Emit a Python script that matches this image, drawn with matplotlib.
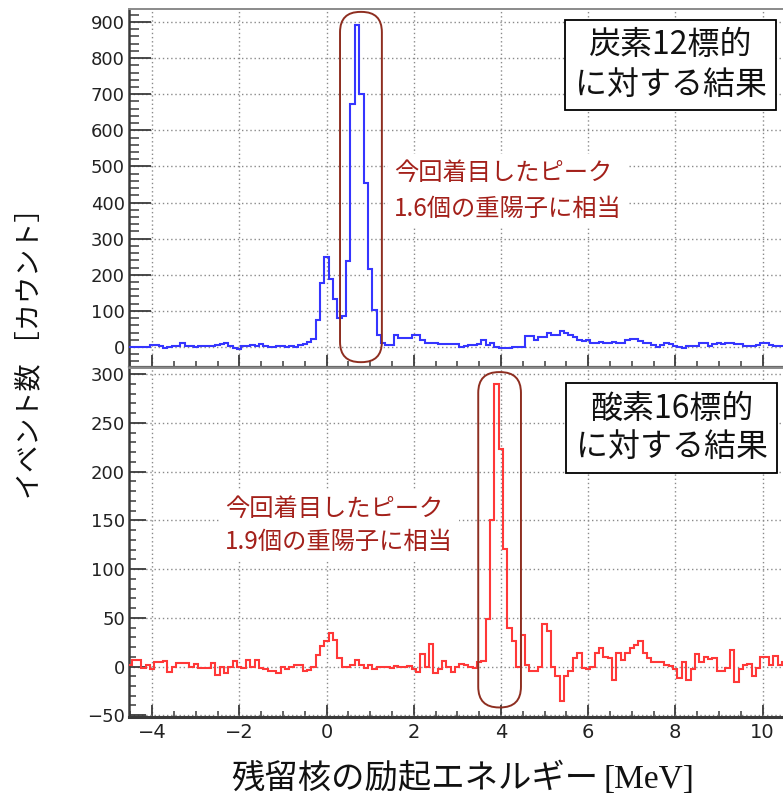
import matplotlib
matplotlib.use("Agg")
import matplotlib.pyplot as plt
import numpy as np
from matplotlib.patches import FancyBboxPatch
from matplotlib.transforms import IdentityTransform
from matplotlib.ticker import MultipleLocator

# ---------------- data ----------------
# bin centres from -4.5 to 10.5 MeV, width 0.1 MeV
bin_width = 0.1
bin_first = -4.5
n_bins = 151

carbon_counts = [
    1, 1, 1, 1, 1,
    5, 5, 3, -2, 0,
    3, 3, 11, 4, 2,
    1, 2, 3, 2, 4,
    5, 7, 10, 4, -2,
    -5, 2, 3, 6, 4,
    9, 3, 1, 1, 4,
    2, -1, 4, 1, 5,
    9, 14, 23, 76, 178,
    249, 187, 132, 80, 85,
    238, 673, 893, 701, 455,
    215, 102, 34, 11, 6,
    6, 33, 26, 24, 26,
    32, 32, 20, 12, 12,
    12, 8, 8, 9, 9,
    7, 0, 2, 5, 5,
    9, 18, 6, 11, 0,
    -3, -3, -2, 0, 0,
    0, 30, 30, 20, 27,
    27, 39, 34, 34, 44,
    40, 34, 28, 20, 16,
    18, 12, 12, 14, 10,
    10, 14, 10, 10, 18,
    22, 22, 16, 12, 10,
    6, 0, 6, 10, 8,
    4, 0, -3, 2, 4,
    4, 10, 12, 3, 8,
    10, 8, 10, 10, 8,
    8, 2, 2, 4, 6,
    10, 10, 6, 3, 3, 3,
]

oxygen_counts = [
    2, 7, 7, -2, 2,
    -3, 5, 5, 6, -6,
    0, 4, 4, 4, -1,
    3, -2, -2, -2, 4,
    -9, 0, -7, 0, 6,
    0, -2, 7, 0, 7,
    -2, -3, -5, -5, -7,
    -1, -3, 0, 2, 2,
    -5, -4, 0, 12, 21,
    26, 34, 27, 9, 0,
    0, 2, 7, 2, -2,
    2, -3, 0, -1, -1,
    -2, 1, 0, 0, 1,
    -3, -6, 13, 0, 23,
    -7, -3, 6, 0, -6,
    -1, 3, 2, 0, -2,
    5, 6, 49, 150, 290,
    223, 121, 40, 26, 0,
    32, 2, -5, -5, 0,
    44, 36, 0, -10, -35,
    -10, -5, 9, 14, -2,
    -3, 0, 14, 19, 10,
    9, -14, 14, 7, 14,
    19, 22, 26, 14, 9,
    5, 5, 5, 2, 1,
    -3, -12, 5, -14, -3,
    13, 5, 10, 8, 9,
    -5, -5, -2, 17, -16,
    -3, 2, 3, -10, -2,
    10, 10, 2, 11, 2, 5,
]

carbon_label = "炭素12標的\nに対する結果"
oxygen_label = "酸素16標的\nに対する結果"
carbon_note = "今回着目したピーク\n1.6個の重陽子に相当"
oxygen_note = "今回着目したピーク\n1.9個の重陽子に相当"
xlabel_jp = "残留核の励起エネルギー"
xlabel_unit = "[MeV]"
ylabel = "イベント数 ［カウント］"

x_ticks = [-4, -2, 0, 2, 4, 6, 8, 10]
carbon_yticks = [0, 100, 200, 300, 400, 500, 600, 700, 800, 900]
oxygen_yticks = [-50, 0, 50, 100, 150, 200, 250, 300]

# highlighted peak regions (x range, y range) in data units
carbon_peak_box = (0.31, 1.27, -42, 928)
oxygen_peak_box = (3.48, 4.46, -42, 302)

# ---------------- style ----------------
plt.rcParams["font.family"] = ["DejaVu Sans"]
CJK = ["Noto Sans CJK JP", "DejaVu Sans"]
BLUE = "#3535ff"
RED = "#ff3838"
NOTE = "#a3201a"
RING = "#8e2e20"
FRAME = "#3a3a3a"

W, H = 783, 800
fig = plt.figure(figsize=(W / 100, H / 100), dpi=100)


def ax_rect(left, top, right, bottom):
    return [left / W, 1 - bottom / H, (right - left) / W, (bottom - top) / H]


ax1 = fig.add_axes(ax_rect(129, 9, 783, 367))
ax2 = fig.add_axes(ax_rect(129, 368, 783, 717))

edges = bin_first - bin_width / 2 + bin_width * np.arange(n_bins + 1)

ax1.stairs(carbon_counts, edges, baseline=None, color=BLUE, lw=1.5, zorder=3)
ax2.stairs(oxygen_counts, edges, baseline=None, color=RED, lw=1.5, zorder=3)

ax1.set_ylim(-55.4, 936)
ax2.set_ylim(-51.8, 306.2)

for ax, yt, ymin_step, ylen in ((ax1, carbon_yticks, 20, (16, 7)),
                                (ax2, oxygen_yticks, 10, (12.5, 5))):
    ax.set_xlim(-4.53, 10.47)
    ax.set_xticks(x_ticks)
    ax.xaxis.set_minor_locator(MultipleLocator(0.5))
    ax.set_yticks(yt)
    ax.yaxis.set_minor_locator(MultipleLocator(ymin_step))
    ax.grid(True, which="major", color="#8a8a8a", lw=1.0, ls=(0, (1, 2)))
    ax.tick_params(axis="y", which="major", direction="in", length=ylen[0],
                   width=1.3, color=FRAME, labelsize=13, pad=3, labelcolor="#222222")
    ax.tick_params(axis="y", which="minor", direction="in", length=ylen[1],
                   width=1.1, color=FRAME)
    ax.tick_params(axis="x", which="major", direction="in", length=9,
                   width=1.3, color=FRAME, labelsize=14, pad=4, labelcolor="#222222")
    ax.tick_params(axis="x", which="minor", direction="in", length=4.5,
                   width=1.1, color=FRAME)
    ax.spines["right"].set_visible(False)
    ax.spines["left"].set_color(FRAME)
    ax.spines["left"].set_linewidth(1.8)
    ax.spines["top"].set_color("#8a8a8a")
    ax.spines["top"].set_linewidth(1.4)
    ax.spines["bottom"].set_color("#6a6a6a")
    ax.spines["bottom"].set_linewidth(1.6)

ax1.tick_params(axis="x", labelbottom=False)
ax2.spines["bottom"].set_color(FRAME)
ax2.spines["bottom"].set_linewidth(2.2)

# labelled boxes
box_kw = dict(boxstyle="square,pad=0.3", fc="white", ec="black", lw=1.3)
ax1.text(0.828, 0.844, carbon_label, transform=ax1.transAxes, ha="center",
         va="center", fontsize=23, family=CJK, linespacing=1.3, bbox=box_kw,
         zorder=5, color="#111111")
ax2.text(0.830, 0.828, oxygen_label, transform=ax2.transAxes, ha="center",
         va="center", fontsize=23, family=CJK, linespacing=1.25, bbox=box_kw,
         zorder=5, color="#111111")

note_kw = dict(boxstyle="square,pad=0.25", fc="white", ec="none")
ax1.text(0.405, 0.492, carbon_note, transform=ax1.transAxes, ha="left",
         va="center", fontsize=17.5, family=CJK, linespacing=1.45, color=NOTE,
         bbox=note_kw, zorder=4)
ax2.text(0.147, 0.549, oxygen_note, transform=ax2.transAxes, ha="left",
         va="center", fontsize=17.5, family=CJK, linespacing=1.35, color=NOTE,
         bbox=note_kw, zorder=4)


# rounded outlines around the peaks (drawn in pixel space so the ends stay round)
def peak_ring(ax, box):
    x0, x1, y0, y1 = box
    p0 = ax.transData.transform((x0, y0))
    p1 = ax.transData.transform((x1, y1))
    w = p1[0] - p0[0]
    h = p1[1] - p0[1]
    r = w / 2 * 0.97
    patch = FancyBboxPatch((p0[0], p0[1]), w, h,
                           boxstyle=f"round,pad=0,rounding_size={r}",
                           transform=IdentityTransform(), fill=False,
                           ec=RING, lw=1.4, zorder=6)
    patch.set_clip_on(False)
    fig.add_artist(patch)


peak_ring(ax1, carbon_peak_box)
peak_ring(ax2, oxygen_peak_box)

# axis titles
fig.text(30 / W, 1 - 347 / H, ylabel, rotation=90, ha="center", va="center",
         fontsize=19.5, family=CJK, color="#111111")
fig.text(598 / W, 1 - 788 / H, xlabel_jp, ha="right", va="baseline",
         fontsize=24, family=CJK, color="#111111")
fig.text(603 / W, 1 - 788 / H, xlabel_unit, ha="left", va="baseline",
         fontsize=24, family=["Liberation Serif", "DejaVu Serif"], color="#111111")

fig.savefig("out.png", dpi=100)
